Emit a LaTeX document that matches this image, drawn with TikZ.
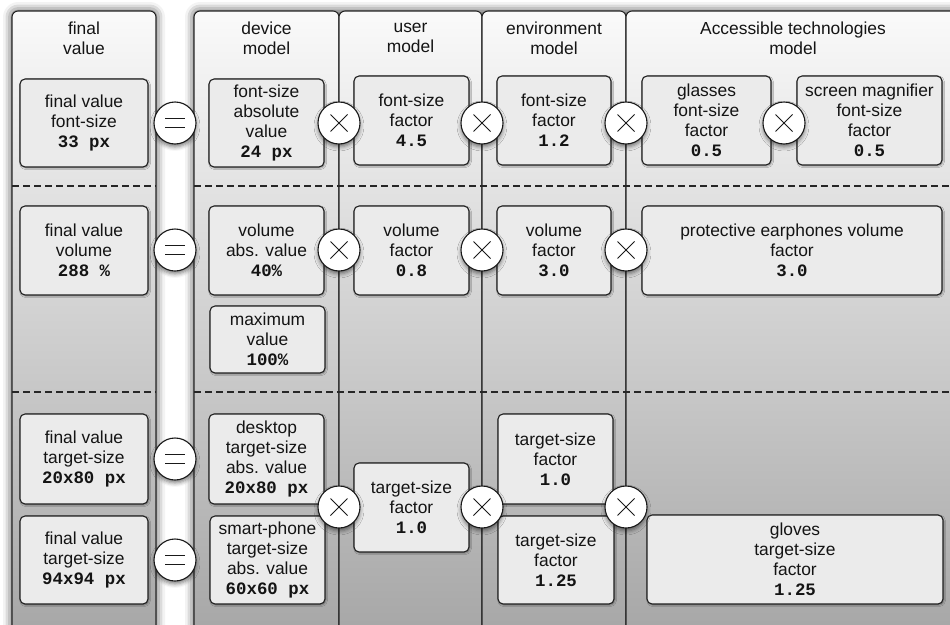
\documentclass[tikz,border=0pt]{standalone}
\usepackage{fontspec}
\setmainfont{Liberation Sans}
\newfontfamily\codefont{Liberation Mono}
\usetikzlibrary{shadows.blur}
\newcommand\codeval[1]{{\codefont\bfseries #1}}

\begin{document}
\begin{tikzpicture}[x=1pt,y=-1pt,
  every node/.style={font=\fontsize{17.4}{20}\selectfont, text=black!92},
  colbox/.style={draw=black!85, line width=1.1pt, rounded corners=6pt,
    top color=black!2, bottom color=black!36},
  groupshadow/.style={blur shadow={shadow xshift=0pt, shadow yshift=0pt,
    shadow blur radius=9pt, shadow opacity=75}},
  rowsep/.style={draw=black!85, line width=1.1pt, dash pattern=on 7pt off 4pt},
  valbox/.style={draw=black!88, line width=1.1pt, rounded corners=5pt,
    fill=black!8, align=center, inner sep=0pt,
    blur shadow={shadow xshift=1pt, shadow yshift=-1.2pt,
      shadow blur radius=1.5pt, shadow opacity=35}},
  opcircle/.style={circle, draw=black!90, line width=1.1pt, fill=white,
    minimum size=42pt, inner sep=0pt,
    blur shadow={shadow xshift=0pt, shadow yshift=-3pt,
      shadow blur radius=4pt, shadow opacity=50}},
  timesop/.style={opcircle, path picture={
    \draw[line width=1pt]
      ([shift={(-8.5pt,-8.5pt)}]path picture bounding box.center) --
      ([shift={(8.5pt,8.5pt)}]path picture bounding box.center)
      ([shift={(-8.5pt,8.5pt)}]path picture bounding box.center) --
      ([shift={(8.5pt,-8.5pt)}]path picture bounding box.center);}},
  equalop/.style={opcircle, path picture={
    \draw[line width=1pt]
      ([shift={(-10pt,4.5pt)}]path picture bounding box.center) --
      ([shift={(10pt,4.5pt)}]path picture bounding box.center)
      ([shift={(-10pt,-4.5pt)}]path picture bounding box.center) --
      ([shift={(10pt,-4.5pt)}]path picture bounding box.center);}},
]
\useasboundingbox (0,0) rectangle (950,624);
\clip (0,0) rectangle (950,624);

% soft shadows around the two column groups
\path[groupshadow, rounded corners=6pt] (12,660) rectangle (156,11);
\path[groupshadow, rounded corners=6pt] (194,660) rectangle (990,11);

% columns
\path[colbox] (12,660) -- (12,11) -- (156,11) -- (156,660);
\path[colbox] (194,660) -- (194,11) -- (339,11) -- (339,660);
\path[colbox] (339,660) -- (339,11) -- (482,11) -- (482,660);
\path[colbox] (482,660) -- (482,11) -- (626,11) -- (626,660);
\path[colbox] (626,660) -- (626,11) -- (990,11) -- (990,660);

% column headings
\node[align=center] (hFinal) at (84,38) {final\\value};
\node[align=center] (hDevice) at (266.5,38) {device\\model};
\node[align=center] (hUser) at (410.5,38) {user\\model};
\node[align=center] (hEnv) at (554,38) {environment\\model};
\node[align=center] (hAcc) at (793,38) {Accessible technologies\\model};

% row separators
\draw[rowsep] (12,186) -- (156,186);
\draw[rowsep] (194,186) -- (950,186);
\draw[rowsep] (12,392) -- (156,392);
\draw[rowsep] (194,392) -- (950,392);

% font-size row
\node[valbox, minimum width=128pt, minimum height=88pt] (fvFont) at (84,123)
  {final value\\font-size\\\codeval{33 px}};
\node[valbox, minimum width=115pt, minimum height=88pt] (devFont) at (266.5,123)
  {font-size\\absolute\\value\\\codeval{24 px}};
\node[valbox, minimum width=115pt, minimum height=89pt] (usrFont) at (411.5,120.5)
  {font-size\\factor\\\codeval{4.5}};
\node[valbox, minimum width=114pt, minimum height=89pt] (envFont) at (554,120.5)
  {font-size\\factor\\\codeval{1.2}};
\node[valbox, minimum width=129pt, minimum height=89pt] (glsFont) at (706.5,120.5)
  {glasses\\font-size\\factor\\\codeval{0.5}};
\node[valbox, minimum width=145pt, minimum height=89pt] (magFont) at (869.5,120.5)
  {screen magnifier\\font-size\\factor\\\codeval{0.5}};

% volume row
\node[valbox, minimum width=128pt, minimum height=89pt] (fvVol) at (84,250.5)
  {final value\\volume\\\codeval{288 \%}};
\node[valbox, minimum width=115pt, minimum height=89pt] (devVol) at (266.5,250.5)
  {volume\\abs. value\\\codeval{40\%}};
\node[valbox, minimum width=115pt, minimum height=67pt] (devMax) at (267.5,339.5)
  {maximum\\value\\\codeval{100\%}};
\node[valbox, minimum width=115pt, minimum height=89pt] (usrVol) at (411.5,250.5)
  {volume\\factor\\\codeval{0.8}};
\node[valbox, minimum width=114pt, minimum height=89pt] (envVol) at (554,250.5)
  {volume\\factor\\\codeval{3.0}};
\node[valbox, minimum width=300pt, minimum height=89pt] (earVol) at (792,250.5)
  {protective earphones volume\\factor\\\codeval{3.0}};

% target-size row
\node[valbox, minimum width=128pt, minimum height=90pt] (fvDesk) at (84,459)
  {final value\\target-size\\\codeval{20x80 px}};
\node[valbox, minimum width=128pt, minimum height=88pt] (fvPhone) at (84,560)
  {final value\\target-size\\\codeval{94x94 px}};
\node[valbox, minimum width=115pt, minimum height=90pt] (devDesk) at (266.5,459)
  {desktop\\target-size\\abs. value\\\codeval{20x80 px}};
\node[valbox, minimum width=115pt, minimum height=88pt] (devPhone) at (267.5,560)
  {smart-phone\\target-size\\abs. value\\\codeval{60x60 px}};
\node[valbox, minimum width=115pt, minimum height=89pt] (usrTgt) at (411.5,507.5)
  {target-size\\factor\\\codeval{1.0}};
\node[valbox, minimum width=115pt, minimum height=90pt] (envTgtA) at (555.5,459)
  {target-size\\factor\\\codeval{1.0}};
\node[valbox, minimum width=116pt, minimum height=88pt] (envTgtB) at (556,560)
  {target-size\\factor\\\codeval{1.25}};
\node[valbox, minimum width=296pt, minimum height=89pt] (glvTgt) at (795,559.5)
  {gloves\\target-size\\factor\\\codeval{1.25}};

% operators
\node[equalop] (eqFont) at (175,123) {};
\node[timesop] (mulFontA) at (339,123) {};
\node[timesop] (mulFontB) at (482,123) {};
\node[timesop] (mulFontC) at (626,123) {};
\node[timesop] (mulFontD) at (784,123) {};

\node[equalop] (eqVol) at (175,250) {};
\node[timesop] (mulVolA) at (339,250) {};
\node[timesop] (mulVolB) at (482,250) {};
\node[timesop] (mulVolC) at (626,250) {};

\node[equalop] (eqDesk) at (175,459) {};
\node[equalop] (eqPhone) at (175,560) {};
\node[timesop] (mulTgtA) at (339,507) {};
\node[timesop] (mulTgtB) at (482,507) {};
\node[timesop] (mulTgtC) at (626,507) {};
\end{tikzpicture}
\end{document}
